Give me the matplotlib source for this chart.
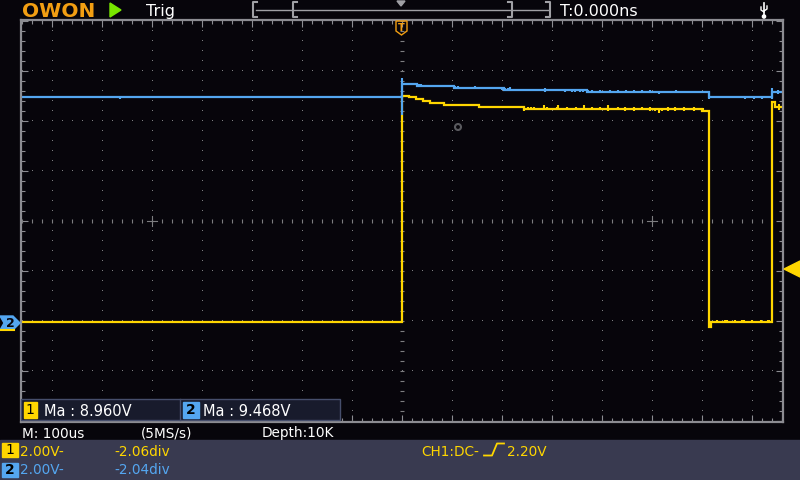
import numpy as np
import matplotlib
matplotlib.use('Agg')
import matplotlib.pyplot as plt
from matplotlib.patches import Rectangle, Polygon, Circle
from matplotlib.ticker import MultipleLocator

# ---------------- scope settings ----------------
time_per_div_us = 100.0
ch1_volts_per_div = 2.0
ch2_volts_per_div = 2.0
ch1_offset_div = -2.06
ch2_offset_div = -2.04
trigger_level_v = 2.20

# ---------------- CH1 (yellow) step trace: time [us], volts ----------------
ch1_t = [-762, 0, 13, 27, 41, 55, 83, 153, 244, 600, 614, 618, 739, 745, 762]
ch1_v = [0.08, 9.12, 9.07, 8.99, 8.91, 8.83, 8.75, 8.67, 8.59, 8.51, -0.10, 0.08, 8.87, 8.67, 8.67]

# CH1 glitches: time [us], low [V], high [V]
ch1_gl_t = [244, 252, 258, 263, 284, 289, 309, 312, 329, 347, 364, 379, 396, 412, 431, 446,
            464, 479, 496, 505, 513, 520, 531, 546, 564, 583, 601,
            630, 646, 650, 666, 680, 684, 700, 718, 732, 734, 754]
ch1_gl_lo = [8.51, 8.59, 8.59, 8.59, 8.59, 8.59, 8.59, 8.59, 8.59, 8.59, 8.59, 8.59, 8.59, 8.51, 8.59, 8.51,
             8.51, 8.59, 8.51, 8.51, 8.43, 8.51, 8.51, 8.51, 8.51, 8.51, 8.51,
             0.08, 0.08, 0.08, 0.08, 0.08, 0.08, 0.08, 0.08, 0.08, 0.08, 8.55]
ch1_gl_hi = [8.59, 8.67, 8.67, 8.67, 8.75, 8.67, 8.67, 8.75, 8.67, 8.67, 8.75, 8.67, 8.67, 8.75, 8.67, 8.67,
             8.67, 8.67, 8.67, 8.59, 8.59, 8.59, 8.67, 8.67, 8.67, 8.67, 8.63,
             0.18, 0.18, 0.18, 0.18, 0.18, 0.18, 0.18, 0.18, 0.18, 0.18, 8.79]

# ---------------- CH2 (blue) step trace ----------------
ch2_t = [-762, 0, 30, 103, 203, 370, 614, 740, 762]
ch2_v = [9.03, 9.55, 9.47, 9.39, 9.31, 9.23, 9.03, 9.25, 9.25]

ch2_gl_t = [-564, 0, 34, 37, 106, 112, 146, 200, 206, 212, 215, 286, 326, 340, 345, 355, 361,
            372, 380, 396, 415, 431, 448, 463, 479, 496, 513, 548, 614, 686, 703, 719, 740, 752]
ch2_gl_lo = [8.95, 8.32, 9.47, 9.47, 9.39, 9.39, 9.39, 9.31, 9.31, 9.31, 9.31, 9.23, 9.23, 9.23, 9.23, 9.23, 9.23,
             9.23, 9.23, 9.23, 9.23, 9.23, 9.23, 9.23, 9.23, 9.23, 9.15, 9.23, 8.95, 8.95, 8.95, 8.95, 8.96, 9.17]
ch2_gl_hi = [9.03, 9.80, 9.55, 9.55, 9.47, 9.47, 9.47, 9.39, 9.39, 9.39, 9.44, 9.39, 9.31, 9.31, 9.31, 9.31, 9.31,
             9.31, 9.31, 9.31, 9.31, 9.31, 9.31, 9.31, 9.31, 9.31, 9.23, 9.31, 9.23, 9.03, 9.03, 9.03, 9.41, 9.33]

# ---------------- screen texts ----------------
meas_ch1 = "Ma : 8.960V"
meas_ch2 = "Ma : 9.468V"
timebase_txt = "M: 100us"
rate_txt = "(5MS/s)"
depth_txt = "Depth:10K"
ch1_scale_txt = "2.00V-"
ch2_scale_txt = "2.00V-"
ch1_pos_txt = "-2.06div"
ch2_pos_txt = "-2.04div"
trig_txt = "CH1:DC-"
trig_lvl_txt = "2.20V"
trig_time_txt = "T:0.000ns"

# ---------------- colours ----------------
BG = (7/255, 5/255, 11/255)
YEL = (255/255, 214/255, 0/255)
BLU = (84/255, 166/255, 240/255)
GRID = (125/255, 125/255, 128/255)
BORDER = (140/255, 140/255, 146/255)
PANEL = (57/255, 58/255, 80/255)
ORANGE = (242/255, 158/255, 18/255)

W, H = 800, 480
fig = plt.figure(figsize=(8, 4.8), dpi=100, facecolor=BG)

# main graticule axes, pixel box x 21..783, y 20..422
L, R, T, B = 21, 783, 20, 422
ax = fig.add_axes([L / W, (H - B) / H, (R - L) / W, (B - T) / H], facecolor=BG)
xhalf = (R - L) / 2 / 50.0
yhalf = (B - T) / 2 / 50.0
ax.set_xlim(-xhalf, xhalf)
ax.set_ylim(-yhalf, yhalf)
for s in ax.spines.values():
    s.set_color(BORDER)
    s.set_linewidth(1.6)
ax.xaxis.set_major_locator(MultipleLocator(1))
ax.xaxis.set_minor_locator(MultipleLocator(0.2))
ax.yaxis.set_major_locator(MultipleLocator(1))
ax.yaxis.set_minor_locator(MultipleLocator(0.2))
ax.tick_params(which='both', direction='in', top=True, right=True, bottom=True, left=True,
               labelbottom=False, labelleft=False, color=BORDER, width=0.8)
ax.tick_params(which='major', length=5)
ax.tick_params(which='minor', length=3)

# dotted grid
ydots = np.arange(-20, 21) * 0.2
xdots = np.arange(-38, 39) * 0.2
for gx in range(-7, 8):
    if gx == 0:
        continue
    ax.plot(np.full_like(ydots, gx), ydots, ',', color=GRID)
for gy in range(-3, 4):
    if gy == 0:
        continue
    ax.plot(xdots, np.full_like(xdots, gy), ',', color=GRID)
# centre lines with ticks
ax.plot(xdots, np.zeros_like(xdots), '|', color=GRID, ms=3, mew=0.8)
ax.plot(np.zeros_like(ydots), ydots, '_', color=GRID, ms=3, mew=0.8)
for cx in (-5, 5):
    ax.plot([cx - 0.1, cx + 0.1], [0, 0], color=GRID, lw=0.8)
    ax.plot([cx, cx], [-0.1, 0.1], color=GRID, lw=0.8)


def tx(t):
    return np.asarray(t, float) / time_per_div_us


def vy(v, vpd, off):
    return np.asarray(v, float) / vpd + off


# CH1 trace
ax.plot(tx(ch1_t), vy(ch1_v, ch1_volts_per_div, ch1_offset_div), drawstyle='steps-post',
        color=YEL, lw=1.6, solid_joinstyle='miter')
ax.vlines(tx(ch1_gl_t), vy(ch1_gl_lo, ch1_volts_per_div, ch1_offset_div),
          vy(ch1_gl_hi, ch1_volts_per_div, ch1_offset_div), color=YEL, lw=1.5)
# CH2 trace
ax.plot(tx(ch2_t), vy(ch2_v, ch2_volts_per_div, ch2_offset_div), drawstyle='steps-post',
        color=BLU, lw=1.6, solid_joinstyle='miter')
ax.vlines(tx(ch2_gl_t), vy(ch2_gl_lo, ch2_volts_per_div, ch2_offset_div),
          vy(ch2_gl_hi, ch2_volts_per_div, ch2_offset_div), color=BLU, lw=1.5)

# ---------------- overlay for screen furniture (pixel coordinates) ----------------
ov = fig.add_axes([0, 0, 1, 1], facecolor='none', zorder=5)
ov.set_xlim(0, W)
ov.set_ylim(H, 0)
ov.axis('off')

FONT = 'DejaVu Sans'
# top bar
ov.text(22, 17, "OWON", color=ORANGE, fontsize=14.5, fontweight='bold', family=FONT, va='baseline')
ov.add_patch(Polygon([(110, 3), (110, 17), (121, 10)], closed=True, color=(120/255, 230/255, 0)))
ov.text(146, 16, "Trig", color='white', fontsize=11.5, family=FONT, va='baseline')
barc = (160/255, 160/255, 165/255)
ov.plot([256, 548], [9.5, 9.5], color=barc, lw=1.0)
for bx, d in ((253, 1), (293, 1), (512, -1), (550, -1)):
    ov.plot([bx + 4 * d, bx, bx, bx + 4 * d], [2, 2, 17, 17], color=barc, lw=1.5)
ov.add_patch(Polygon([(397, 1), (405, 1), (401, 6)], closed=True, color=barc))
ov.text(560, 16, trig_time_txt, color='white', fontsize=11.5, family=FONT, va='baseline')
# usb icon
ov.plot([764, 764], [3, 17], color='white', lw=1.2)
ov.plot([761, 761, 764], [7, 10, 12], color='white', lw=1.0)
ov.plot([767, 767, 764], [6, 9, 11], color='white', lw=1.0)
ov.add_patch(Circle((764, 16.5), 1.6, color='white'))

# trigger position marker
ov.add_patch(Polygon([(396, 21), (407, 21), (407, 31), (401.5, 35), (396, 31)], closed=True,
                     fill=False, edgecolor=ORANGE, lw=1.0))
ov.text(401.5, 28, "T", color=ORANGE, fontsize=7, fontweight='bold', ha='center', va='center', family=FONT)

# trigger level arrow (right)
ytrig = 221 - (trigger_level_v / ch1_volts_per_div + ch1_offset_div) * 50
ov.add_patch(Polygon([(784, ytrig), (800, ytrig - 8), (800, ytrig + 8)], closed=True, color=YEL))

# channel markers (left)
y2 = 221 - ch2_offset_div * 50
ov.plot([0, 14], [y2 + 7, y2 + 7], color=YEL, lw=1.5)
ov.add_patch(Polygon([(0, y2 - 7), (13, y2 - 7), (20, y2), (13, y2 + 7), (0, y2 + 7), (4, y2)],
                     closed=True, color=BLU))
ov.text(10, y2 + 0.5, "2", color=BG, fontsize=9, fontweight='bold', ha='center', va='center', family=FONT)

# cursor ring
ov.add_patch(Circle((458, 127), 3, fill=False, edgecolor=(90/255, 90/255, 95/255), lw=1.5))

# measurement box
ov.add_patch(Rectangle((21, 399), 319, 21, facecolor=(24/255, 27/255, 44/255),
                       edgecolor=(70/255, 78/255, 108/255), lw=1.0))
ov.plot([180, 180], [399, 420], color=(70/255, 78/255, 108/255), lw=1.0)
ov.add_patch(Rectangle((23.5, 401.5), 13, 16.5, color=YEL))
ov.text(30, 410, "1", color='black', fontsize=10, ha='center', va='center', family=FONT)
ov.text(44, 415.5, meas_ch1, color='white', fontsize=10.5, va='baseline', family=FONT)
ov.add_patch(Rectangle((183, 401.5), 16, 16.5, color=BLU))
ov.text(191, 410, "2", color='black', fontsize=10, fontweight='bold', ha='center', va='center', family=FONT)
ov.text(203, 415.5, meas_ch2, color='white', fontsize=10.5, va='baseline', family=FONT)

# status line
ov.text(22, 437.5, timebase_txt, color='white', fontsize=9.8, va='baseline', family=FONT)
ov.text(141, 437.5, rate_txt, color='white', fontsize=9.8, va='baseline', family=FONT)
ov.text(262, 437.5, depth_txt, color='white', fontsize=9.8, va='baseline', family=FONT)

# bottom panel
ov.add_patch(Rectangle((0, 440), 800, 40, color=PANEL))
ov.add_patch(Rectangle((2, 443), 16, 14, color=YEL))
ov.text(10, 450.5, "1", color='black', fontsize=10, ha='center', va='center', family=FONT)
ov.text(20, 455.5, ch1_scale_txt, color=YEL, fontsize=9.8, va='baseline', family=FONT)
ov.text(114, 455.5, ch1_pos_txt, color=YEL, fontsize=9.8, va='baseline', family=FONT)
ov.add_patch(Rectangle((2, 463), 16, 14, color=BLU))
ov.text(10, 470.5, "2", color='black', fontsize=10, fontweight='bold', ha='center', va='center', family=FONT)
ov.text(20, 474.5, ch2_scale_txt, color=BLU, fontsize=9.8, va='baseline', family=FONT)
ov.text(114, 474.5, ch2_pos_txt, color=BLU, fontsize=9.8, va='baseline', family=FONT)
ov.text(421, 455.5, trig_txt, color=YEL, fontsize=9.8, va='baseline', family=FONT)
ov.plot([484, 492, 497, 504], [455.5, 455.5, 443.5, 443.5], color=YEL, lw=1.3)
ov.text(507, 455.5, trig_lvl_txt, color=YEL, fontsize=9.8, va='baseline', family=FONT)

fig.savefig('out.png', dpi=100, facecolor=BG)
